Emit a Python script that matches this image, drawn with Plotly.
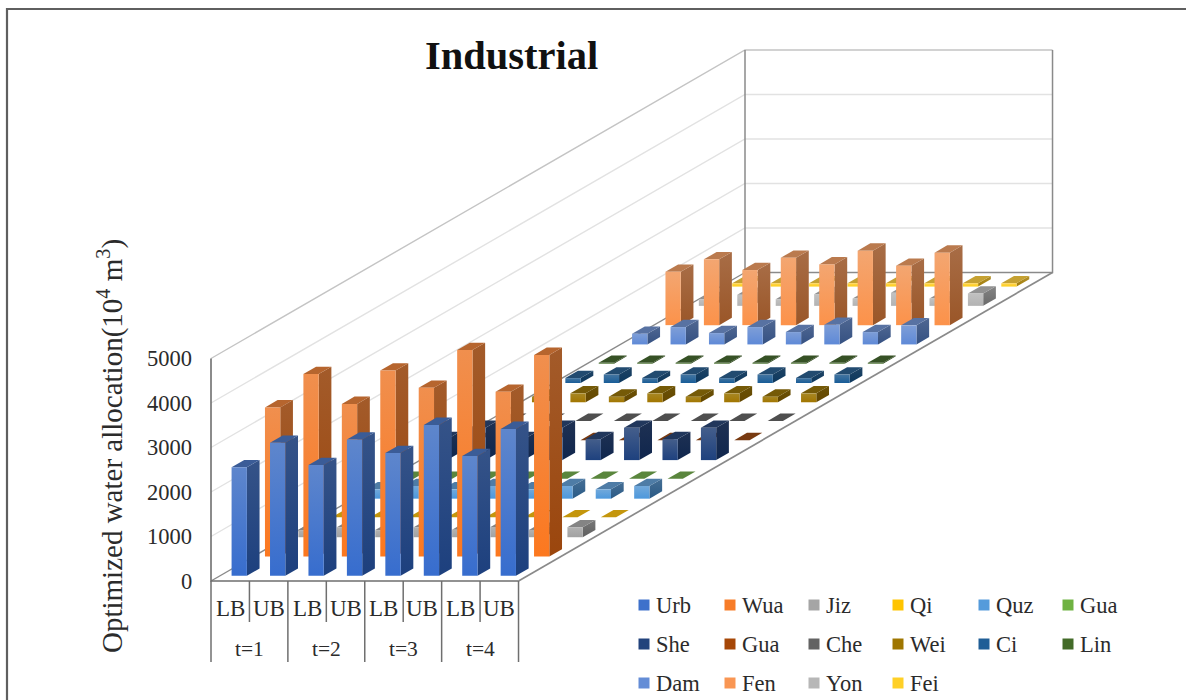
import plotly.graph_objects as go

# Water allocation per subarea, eight columns: LB/UB for each of t=1..4
CATEGORY_LB_UB = ["LB", "UB", "LB", "UB", "LB", "UB", "LB", "UB"]
PERIODS = ["t=1", "t=2", "t=3", "t=4"]
SERIES_NAMES = ["Urb", "Wua", "Jiz", "Qi", "Quz", "Gua", "She", "Gua", "Che", "Wei", "Ci", "Lin",
                "Dam", "Fen", "Yon", "Fei"]

urb = [2440, 2990, 2490, 3060, 2760, 3390, 2690, 3300]
wua = [3350, 4100, 3430, 4180, 3790, 4640, 3700, 4530]
jiz = [160, 225, 160, 225, 170, 230, 165, 225]
qi = [15, 15, 15, 15, 15, 15, 15, 15]
quz = [210, 285, 210, 285, 210, 285, 210, 285]
gua = [15, 15, 15, 15, 15, 15, 15, 15]
she = [470, 725, 470, 725, 472, 727, 472, 727]
gua2 = [15, 15, 15, 15, 15, 15, 15, 15]
che = [15, 15, 15, 15, 15, 15, 15, 15]
wei = [125, 200, 125, 200, 125, 200, 125, 200]
ci = [110, 190, 110, 190, 110, 190, 110, 190]
lin = [20, 20, 20, 20, 20, 20, 20, 20]
dam = [240, 390, 255, 390, 278, 442, 278, 428]
fen = [1200, 1478, 1238, 1515, 1365, 1673, 1335, 1628]
yon = [150, 248, 150, 263, 165, 293, 165, 278]
fei = [75, 75, 75, 75, 75, 75, 75, 75]

SERIES_VALUES = [urb, wua, jiz, qi, quz, gua, she, gua2, che, wei, ci, lin, dam, fen, yon, fei]
BASE_COLORS = ["#4472C4", "#ED7D31", "#A5A5A5", "#FFC000", "#5B9BD5", "#70AD47", "#264478", "#9E480E",
               "#636363", "#997300", "#255E91", "#43682B", "#698ED0", "#F1975A", "#B7B7B7", "#FFCD33"]
Y_TICKS = [0, 1000, 2000, 3000, 4000, 5000]

# Oblique projection of (category, row, value) onto the page
X0, Y0 = 211.0, 581.0
STEP = 38.44
ROW_DX = 534.0 / 16
ROW_DY = 308.5 / 16
PX_PER_UNIT = 44.5 / 1000
BAR_W = 0.398
BAR_D0, BAR_D1 = 0.27, 0.65
AXIS_DARK = "#6f6f6f"
TEXT = "#2b2b2b"
SERIF = "Liberation Serif"


def project(u, d, v=0.0):
    return X0 + u * STEP + d * ROW_DX, Y0 - d * ROW_DY - v * PX_PER_UNIT


def to_rgb(h):
    return tuple(int(h[i:i + 2], 16) for i in (1, 3, 5))


def css(c):
    return "rgb(%d,%d,%d)" % tuple(max(0, min(255, round(x))) for x in c)


def tint(c, a):
    return tuple(x + (255 - x) * a for x in c)


def shade(c, f):
    return tuple(x * f for x in c)


def vivid(c, a):
    m = sum(c) / 3
    return tuple(x + (x - m) * a for x in c)


fig = go.Figure()


def polyline(xs, ys, color, width):
    fig.add_trace(go.Scatter(x=xs, y=ys, mode="lines", line=dict(color=color, width=width),
                             hoverinfo="skip"))


def face(points, top_color, bottom_color=None):
    xs = [p[0] for p in points] + [points[0][0]]
    ys = [p[1] for p in points] + [points[0][1]]
    kw = dict(x=xs, y=ys, mode="lines", line=dict(width=0), fill="toself", hoverinfo="skip")
    if bottom_color is None:
        kw["fillcolor"] = top_color
    else:
        # The page axis runs downward, so the first colorscale stop lands at the foot of the face
        kw["fillgradient"] = dict(type="vertical",
                                  colorscale=[[0, bottom_color], [1, top_color]])
    fig.add_trace(go.Scatter(**kw))


# Walls and floor edges
for tick in Y_TICKS:
    gx0, gy0 = project(0, 0, tick)
    gx1, gy1 = project(0, 16, tick)
    gx2, gy2 = project(8, 16, tick)
    wall_color = "#c4c4c4" if tick == 5000 else "#e2e2e2"
    if tick > 0:
        polyline([gx0, gx1, gx2], [gy0, gy1, gy2], wall_color, 1.4)

bx, by = project(0, 16, 0)
bx5, by5 = project(0, 16, 5000)
rx, ry = project(8, 16, 0)
rx5, ry5 = project(8, 16, 5000)
polyline([bx5, bx, rx, rx5], [by5, by, ry, ry5], "#8a8a8a", 1.5)
fx, fy = project(8, 0, 0)
lx, ly = project(0, 0, 0)
lx5, ly5 = project(0, 0, 5000)
polyline([lx, bx], [ly, by], "#8a8a8a", 1.4)
polyline([fx, rx], [fy, ry], "#8a8a8a", 1.7)

# Bars, rear row first so nearer rows cover them
for row in range(len(SERIES_VALUES) - 1, -1, -1):
    base = to_rgb(BASE_COLORS[row])
    values = SERIES_VALUES[row]
    for k, v in enumerate(values):
        u0 = k + (1 - BAR_W) / 2
        u1 = u0 + BAR_W
        d0 = row + BAR_D0
        d1 = row + BAR_D1
        face([project(u1, d0, 0), project(u1, d1, 0), project(u1, d1, v), project(u1, d0, v)],
             css(shade(vivid(base, -0.1), 0.72)), css(shade(vivid(base, 0.3), 0.58)))
        face([project(u0, d0, v), project(u1, d0, v), project(u1, d1, v), project(u0, d1, v)],
             css(shade(vivid(base, -0.1), 0.8)))
        face([project(u0, d0, 0), project(u1, d0, 0), project(u1, d0, v), project(u0, d0, v)],
             css(tint(base, 0.14)), css(shade(vivid(base, 0.2), 0.98)))

# Axis lines in front of the bars, plus the two-level category table
polyline([lx5, lx, fx], [ly5, ly, fy], AXIS_DARK, 1.6)
for i in range(9):
    tx, ty = project(i, 0, 0)
    polyline([tx, tx], [ty, ty + (81 if i % 2 == 0 else 41)], AXIS_DARK, 1.5)

annotations = []


def label(x, y, text, size, **kw):
    annotations.append(dict(x=x, y=y, text=text, showarrow=False, xref="x", yref="y",
                            font=dict(family=SERIF, size=size, color=kw.pop("color", TEXT)), **kw))


for i, name in enumerate(CATEGORY_LB_UB):
    tx, ty = project(i + 0.5, 0, 0)
    label(tx, ty + 27, name, 23)
for i, name in enumerate(PERIODS):
    tx, ty = project(2 * i + 1, 0, 0)
    label(tx, ty + 68, name, 21.5)
for tick in Y_TICKS:
    tx, ty = project(0, 0, tick)
    label(193.5, ty, str(tick), 22.5, xanchor="right")

label(511.5, 55, "<b>Industrial</b>", 40.5, color="#111111")
label(110, 446, "Optimized water allocation(10<sup>4</sup> m<sup>3</sup>)", 29, textangle=-90)

# Legend laid out in rows of six
LEGEND_COLS = [644, 730, 814, 898, 984, 1068]
LEGEND_ROWS = [605, 644, 683]
for idx, name in enumerate(SERIES_NAMES):
    c = LEGEND_COLS[idx % 6]
    r = LEGEND_ROWS[idx // 6]
    fig.add_trace(go.Scatter(x=[c], y=[r], mode="markers",
                             marker=dict(symbol="square", size=11,
                                         color=css(vivid(to_rgb(BASE_COLORS[idx]), 0.1)), line=dict(width=0)),
                             hoverinfo="skip"))
    label(c + 9.5, r, name, 22.5, xanchor="left")

# Chart-area frame: only the top and left edges fall inside the page
polyline([7, 7, 1186], [700, 9, 9], "#5f5f5f", 2.2)

fig.update_layout(
    width=1186, height=700, margin=dict(l=0, r=0, t=0, b=0),
    paper_bgcolor="white", plot_bgcolor="white", showlegend=False,
    xaxis=dict(range=[0, 1186], visible=False, fixedrange=True),
    yaxis=dict(range=[700, 0], visible=False, fixedrange=True),
    annotations=annotations,
)
fig.write_html("out.html")
